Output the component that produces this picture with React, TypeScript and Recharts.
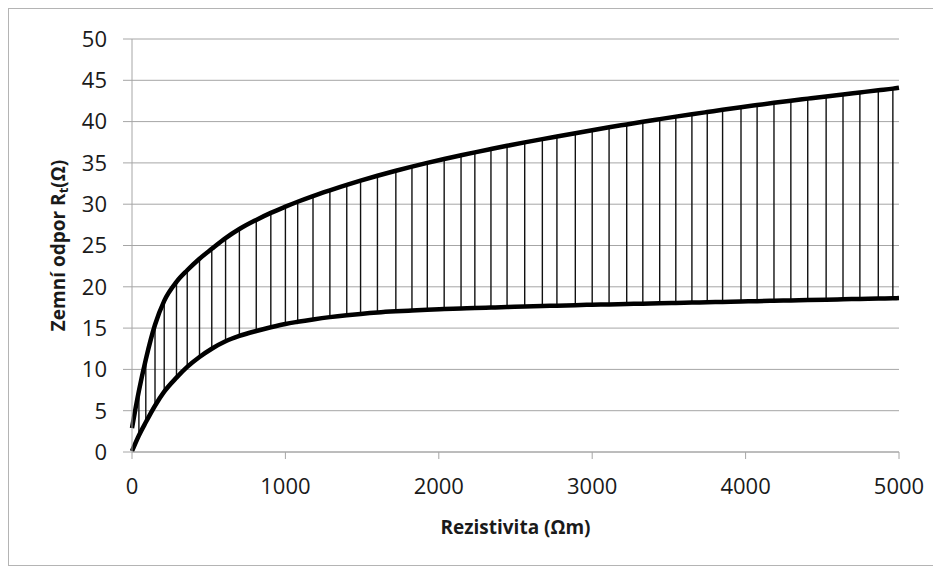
import React from "react";
import { ComposedChart, Line, XAxis, YAxis, CartesianGrid, ReferenceLine, Label } from "recharts";

const rho = [0, 45, 90, 150, 210, 290, 360, 440, 520, 610, 700, 810, 905, 1000, 1080, 1180, 1290, 1400, 1490, 1600, 1720, 1825, 1925, 2035, 2145, 2235, 2340, 2445, 2560, 2675, 2770, 2890, 3000, 3110, 3225, 3330, 3440, 3545, 3650, 3750, 3850, 3970, 4075, 4185, 4295, 4405, 4525, 4635, 4745, 4865, 4960, 5000];
const upper = [2.9, 7.4, 11.2, 15.4, 18.3, 20.6, 22.0, 23.4, 24.6, 25.9, 27.0, 28.1, 28.95, 29.7, 30.3, 30.99, 31.68, 32.34, 32.85, 33.44, 34.05, 34.55, 35.0, 35.47, 35.92, 36.28, 36.68, 37.07, 37.48, 37.88, 38.2, 38.6, 38.96, 39.31, 39.66, 39.98, 40.3, 40.6, 40.89, 41.16, 41.43, 41.74, 42.0, 42.27, 42.53, 42.78, 43.05, 43.29, 43.53, 43.79, 43.99, 44.1];
const lower = [0.1, 2.0, 3.6, 5.6, 7.3, 9.0, 10.3, 11.5, 12.5, 13.4, 14.05, 14.65, 15.1, 15.5, 15.76, 16.05, 16.33, 16.56, 16.72, 16.89, 17.03, 17.13, 17.22, 17.3, 17.37, 17.43, 17.49, 17.55, 17.61, 17.67, 17.72, 17.78, 17.83, 17.87, 17.92, 17.96, 18.01, 18.05, 18.09, 18.13, 18.17, 18.22, 18.26, 18.31, 18.35, 18.39, 18.44, 18.49, 18.53, 18.58, 18.61, 18.63];
const xTicks = [0, 1000, 2000, 3000, 4000, 5000];
const yTicks = [0, 5, 10, 15, 20, 25, 30, 35, 40, 45, 50];

const data = rho.map((r, i) => ({ rho: r, upper: upper[i], lower: lower[i] }));

const FONT = "'Open Sans', sans-serif";
const GRID = "#a6a6a6";
const TEXT = "#1a1a1a";

export default function App() {
  return (
    <div style={{ width: 928, height: 556, border: "1px solid #b4b4b4", background: "#fff" }}>
      <ComposedChart width={928} height={556} data={data} margin={{ top: 30, right: 38, left: 0, bottom: 0 }}>
        <CartesianGrid vertical={false} stroke={GRID} strokeWidth={1} />
        <XAxis
          dataKey="rho"
          type="number"
          domain={[0, 5000]}
          ticks={xTicks}
          height={113}
          tickSize={7}
          tickMargin={19}
          axisLine={{ stroke: GRID }}
          tickLine={{ stroke: GRID }}
          tick={{ fill: TEXT, fontSize: 22, fontFamily: FONT }}
        >
          <Label
            content={({ viewBox }: any) => (
              <text
                x={viewBox.x + viewBox.width / 2}
                y={viewBox.y + 75}
                textAnchor="middle"
                dominantBaseline="central"
                fontFamily={FONT}
                fontWeight="bold"
                fontSize={19}
                fill={TEXT}
              >
                Rezistivita (Ωm)
              </text>
            )}
          />
        </XAxis>
        <YAxis
          type="number"
          domain={[0, 50]}
          ticks={yTicks}
          width={123}
          tickSize={9}
          tickMargin={16}
          axisLine={{ stroke: GRID }}
          tickLine={{ stroke: GRID }}
          tick={{ fill: TEXT, fontSize: 22, fontFamily: FONT }}
          interval={0}
        >
          <Label
            content={({ viewBox }: any) => {
              const cx = 49;
              const cy = viewBox.y + viewBox.height / 2;
              return (
                <text
                  x={cx}
                  y={cy}
                  transform={`rotate(-90 ${cx} ${cy})`}
                  textAnchor="middle"
                  dominantBaseline="central"
                  fontFamily={FONT}
                  fontWeight="bold"
                  fontSize={19}
                  fill={TEXT}
                >
                  Zemní odpor R
                  <tspan fontSize={13} dy={5}>t</tspan>
                  <tspan dy={-5}>(Ω)</tspan>
                </text>
              );
            }}
          />
        </YAxis>
        {rho.slice(1, -1).map((r, k) => (
          <ReferenceLine
            key={"h" + k}
            segment={[
              { x: r, y: lower[k + 1] },
              { x: r, y: upper[k + 1] },
            ]}
            stroke="#111"
            strokeWidth={1.4}
          />
        ))}
        <Line dataKey="upper" type="monotone" stroke="#000" strokeWidth={4.5} dot={false} isAnimationActive={false} />
        <Line dataKey="lower" type="monotone" stroke="#000" strokeWidth={4.5} dot={false} isAnimationActive={false} />
      </ComposedChart>
    </div>
  );
}
